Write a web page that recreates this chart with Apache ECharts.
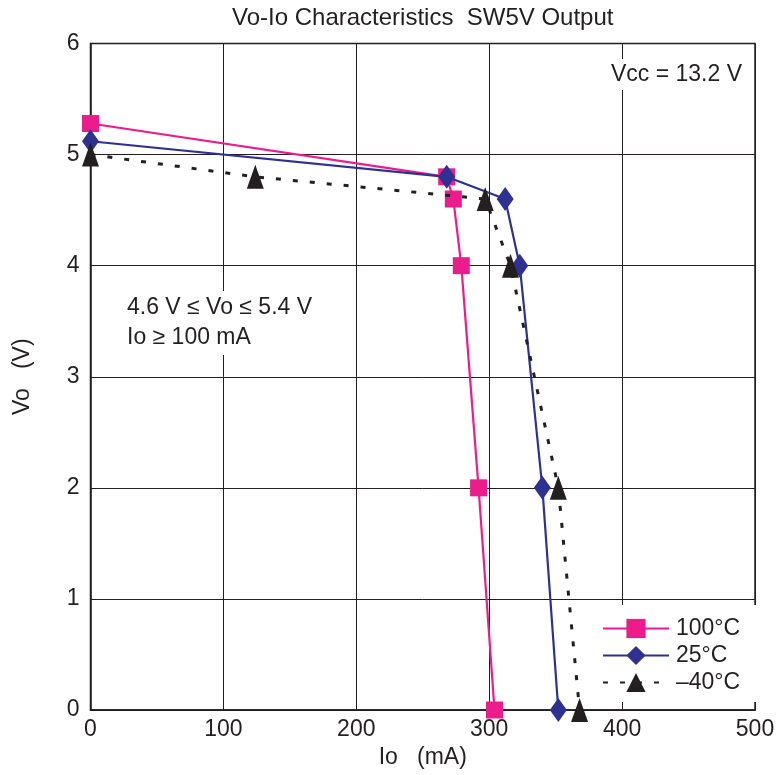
<!DOCTYPE html>
<html>
<head>
<meta charset="utf-8">
<script src="https://cdn.jsdelivr.net/npm/echarts@6/dist/echarts.min.js"></script>
<style>
html,body{margin:0;padding:0;background:#fff;}
#chart{width:779px;height:775px;}
</style>
</head>
<body>
<div id="chart"></div>
<script>
// ---- data (Io in mA, Vo in V) ----
var seriesNames = ['100°C', '25°C', '–40°C'];
var io100 = [0, 268, 273, 279, 292, 304];
var vo100 = [5.28, 4.8, 4.6, 4.0, 2.0, 0];
var io25 = [0, 268, 312, 323, 340, 352];
var vo25 = [5.12, 4.8, 4.6, 4.0, 2.0, 0];
var ioM40 = [0, 124, 297, 316, 352, 368];
var voM40 = [5.0, 4.8, 4.6, 4.0, 2.0, 0];
var xTicks = [0, 100, 200, 300, 400, 500];
var yTicks = [0, 1, 2, 3, 4, 5, 6];
var titleText = 'Vo-Io Characteristics  SW5V Output';
var xName = 'Io   (mA)';
var yName = 'Vo   (V)';
var noteLines = ['4.6 V ≤ Vo ≤ 5.4 V', 'Io ≥ 100 mA'];
var vccText = 'Vcc = 13.2 V';

function pairs(xs, ys) { return xs.map(function (x, i) { return [x, ys[i]]; }); }

var FONT = "'Liberation Sans', Arial, Helvetica, sans-serif";
var FS = 23;
var TXT = '#231f20';
var chart = echarts.init(document.getElementById('chart'), null, {renderer: 'canvas'});

var option = {
  backgroundColor: '#fff',
  animation: false,
  textStyle: {fontFamily: FONT, color: TXT},
  title: {
    text: titleText, left: 232, top: 6, padding: 0,
    textStyle: {fontFamily: FONT, fontSize: 24, fontWeight: 'normal', color: TXT}
  },
  grid: {
    left: 90.5, right: 24, top: 43.5, bottom: 65,
    show: true, borderColor: '#231f20', borderWidth: 1.5, backgroundColor: 'transparent'
  },
  xAxis: {
    type: 'value', min: xTicks[0], max: xTicks[xTicks.length - 1], interval: 100,
    name: xName, nameLocation: 'middle', nameGap: 36,
    nameTextStyle: {fontFamily: FONT, fontSize: FS, color: TXT},
    axisLine: {show: true, lineStyle: {color: '#231f20', width: 1.5}},
    axisTick: {show: false},
    axisLabel: {fontFamily: FONT, fontSize: FS, color: TXT, margin: 8},
    splitLine: {show: true, lineStyle: {color: '#231f20', width: 1}}
  },
  yAxis: {
    type: 'value', min: yTicks[0], max: yTicks[yTicks.length - 1], interval: 1,
    name: yName, nameLocation: 'middle', nameGap: 56, nameRotate: 90,
    nameTextStyle: {fontFamily: FONT, fontSize: FS, color: TXT},
    axisLine: {show: true, lineStyle: {color: '#231f20', width: 1.5}},
    axisTick: {show: false},
    axisLabel: {fontFamily: FONT, fontSize: FS, color: TXT, margin: 11},
    splitLine: {show: true, lineStyle: {color: '#231f20', width: 1}}
  },
  legend: {
    orient: 'vertical', left: 600, top: 605,
    padding: [12, 30, 8, 2],
    backgroundColor: '#fff',
    itemWidth: 66, itemHeight: 24, itemGap: 4,
    textStyle: {fontFamily: FONT, fontSize: FS, color: TXT, padding: [0, 0, 0, 2]},
    data: seriesNames
  },
  series: [
    {
      name: seriesNames[0], type: 'line', data: pairs(io100, vo100),
      symbol: 'rect', symbolSize: [17, 17],
      lineStyle: {color: '#ec1c8c', width: 2.2},
      itemStyle: {color: '#ec1c8c'}, z: 3
    },
    {
      name: seriesNames[1], type: 'line', data: pairs(io25, vo25),
      symbol: 'diamond', symbolSize: [17, 24],
      lineStyle: {color: '#2e3192', width: 2.2},
      itemStyle: {color: '#2e3192'}, z: 4
    },
    {
      name: seriesNames[2], type: 'line', data: pairs(ioM40, voM40),
      symbol: 'triangle', symbolSize: [17, 24],
      lineStyle: {color: '#231f20', width: 3, type: [5, 12]},
      itemStyle: {color: '#231f20'}, z: 5
    }
  ],
  graphic: [
    {
      type: 'text', right: 33, top: 59, z: 10,
      style: {
        text: vccText, font: FS + 'px ' + FONT, fill: TXT,
        backgroundColor: '#fff', padding: [4, 4, 4, 4]
      }
    },
    {
      type: 'text', left: 123, top: 291, z: 10,
      style: {
        text: noteLines.join('\n'), font: FS + 'px ' + FONT, fill: TXT, lineHeight: 30,
        backgroundColor: '#fff', padding: [2, 4, 2, 4]
      }
    }
  ]
};
chart.setOption(option);
</script>
</body>
</html>
